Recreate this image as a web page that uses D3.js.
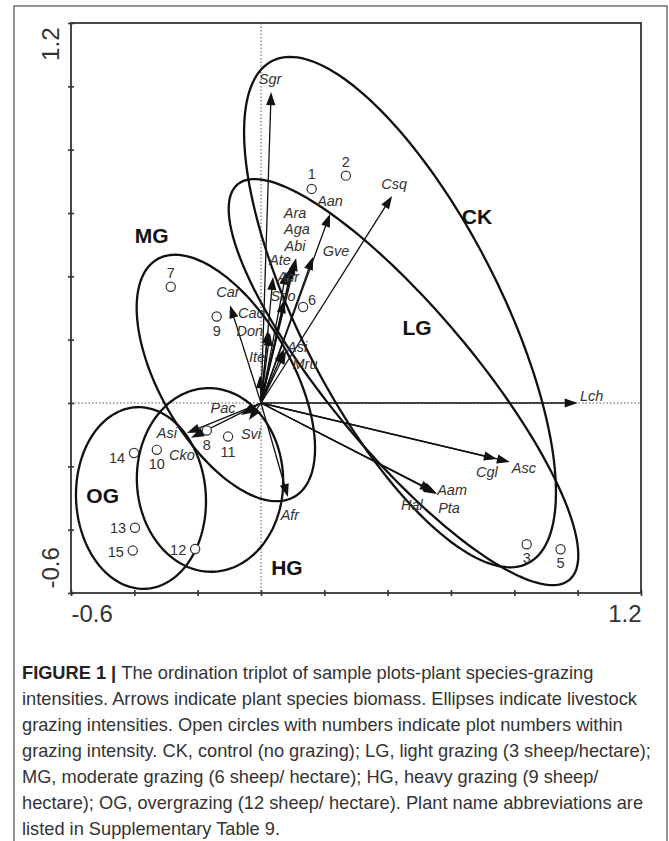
<!DOCTYPE html>
<html>
<head>
<meta charset="utf-8">
<script src="https://cdn.jsdelivr.net/npm/d3@7"></script>
<style>
  body { margin: 0; background: #fff; }
  svg { display: block; }
</style>
</head>
<body>
<svg id="chart" width="669" height="841"></svg>
<script>
// ---- Ordination scores -------------------------------------------------
// Species (arrows)
const speciesNames = ["Sgr","Csq","Aan","Gve","Ara","Aga","Abi","Ate","Acr","Sco","Car","Cac","Don",
                      "Asi","Mru","Ite","Pac","Svi","Asi","Cko","Afr","Lch","Cgl","Asc","Aam","Hal","Pta"];
const speciesX = [0.032, 0.414, 0.218, 0.164, 0.111, 0.104, 0.098, 0.038, 0.080, 0.073, -0.098, 0.022, 0.028,
                  0.073, 0.079, -0.003, -0.063, -0.038, -0.234, -0.221, 0.085, 1.000, 0.745, 0.786, 0.553, 0.543, 0.556];
const speciesY = [0.982, 0.654, 0.597, 0.461, 0.458, 0.445, 0.433, 0.398, 0.415, 0.325, 0.309, 0.230, 0.221,
                  0.171, 0.164, 0.088, -0.038, -0.054, -0.095, -0.110, -0.297, 0.000, -0.177, -0.186, -0.284, -0.278, -0.287];

// Sample plots (open circles)
const plotIds = ["1","2","3","5","6","7","9","8","11","10","14","13","15","12"];
const plotX = [0.160, 0.268, 0.839, 0.946, 0.133, -0.285, -0.140, -0.171, -0.104, -0.329, -0.401, -0.398, -0.405, -0.208];
const plotY = [0.676, 0.718, -0.446, -0.462, 0.303, 0.367, 0.273, -0.087, -0.106, -0.148, -0.158, -0.394, -0.466, -0.461];

// Grazing-intensity ellipses: centre, semi-axes, orientation (degrees)
const groupNames   = ["CK", "LG", "MG", "HG", "OG"];
const ellipseCx    = [0.439, 0.450, -0.111, -0.161, -0.379];
const ellipseCy    = [0.287, 0.066, 0.079, -0.243, -0.300];
const ellipseA     = [0.890, 0.815, 0.433, 0.290, 0.287];
const ellipseB     = [0.316, 0.227, 0.208, 0.231, 0.205];
const ellipseAngle = [-63, -50, -60, 92, 93];

// Axes
const axisTicks = [-0.6, -0.4, -0.2, 0, 0.2, 0.4, 0.6, 0.8, 1.0, 1.2];
const labelledTicks = [-0.6, 1.2];
const labelledTickText = ["-0.6", "1.2"];

// ---- Layout -------------------------------------------------------------
const groupLabelPos = { CK: [0.682, 0.590], MG: [-0.345, 0.527], LG: [0.493, 0.237], OG: [-0.500, -0.291], HG: [0.082, -0.521] };
// species label offsets from the arrow tip (px, label centre)
const speciesLabelOffset = [
  [-1,-13],[2,-12],[0,-13],[23,-6],[-1,-45],[3,-33],[3,-20],[7,-17],[2,5],[-1,-4],[-2,-13],[-17,-17],[-20,-2],
  [13,-2],[19,13],[-3,-18],[-18,-7],[2,14],[-20,0],[-9,17],[2,18],[14,-7],[-10,13],[14,6],[16,-3],[-21,14],[12,14]
];
// plot label offsets from the circle (px, label centre)
const plotLabelOffset = [[0,-15],[0,-14],[0,14],[0,14],[9,-7],[0,-14],[0,14],[0,14],[0,15],[0,14],[-17,5],[-17,0],[-17,1],[-17,1]];

const captionLines = [
  ["FIGURE 1 | ", "The ordination triplot of sample plots-plant species-grazing"],
  ["", "intensities. Arrows indicate plant species biomass. Ellipses indicate livestock"],
  ["", "grazing intensities. Open circles with numbers indicate plot numbers within"],
  ["", "grazing intensity. CK, control (no grazing); LG, light grazing (3 sheep/hectare);"],
  ["", "MG, moderate grazing (6 sheep/ hectare); HG, heavy grazing (9 sheep/"],
  ["", "hectare); OG, overgrazing (12 sheep/ hectare). Plant name abbreviations are"],
  ["", "listed in Supplementary Table 9."]
];

const svg = d3.select("#chart");
const font = "'Liberation Sans', Arial, sans-serif";

// outer figure box
svg.append("rect").attr("x", 14).attr("y", 6).attr("width", 653).attr("height", 850)
  .attr("fill", "none").attr("stroke", "#666").attr("stroke-width", 1.4);

const x = d3.scaleLinear().domain([-0.6, 1.2]).range([71, 641]);
const y = d3.scaleLinear().domain([-0.6, 1.2]).range([593, 23]);

const plot = svg.append("g");

// zero reference lines (dotted)
plot.append("line").attr("x1", x(0)).attr("x2", x(0)).attr("y1", y(1.2)).attr("y2", y(-0.6))
  .attr("stroke", "#555").attr("stroke-width", 1).attr("stroke-dasharray", "1.5,2");
plot.append("line").attr("x1", x(-0.6)).attr("x2", x(1.2)).attr("y1", y(0)).attr("y2", y(0))
  .attr("stroke", "#555").attr("stroke-width", 1).attr("stroke-dasharray", "1.5,2");

// axes
const tickLabel = d => { const i = labelledTicks.findIndex(t => Math.abs(t - d) < 1e-9); return i >= 0 ? labelledTickText[i] : ""; };

const gx = svg.append("g").attr("transform", `translate(0,${y(-0.6)})`)
  .call(d3.axisBottom(x).tickValues(axisTicks).tickSize(3).tickFormat(tickLabel));
gx.select(".domain").remove();
gx.selectAll(".tick line").attr("y1", -3).attr("y2", 3).attr("stroke", "#333").attr("stroke-width", 1.6);
gx.selectAll(".tick text").attr("y", 29).attr("dy", null).attr("x", 0)
  .attr("font-family", font).attr("font-size", 24).attr("fill", "#333")
  .attr("text-anchor", d => d < 0 ? "start" : "end");

const gy = svg.append("g").attr("transform", `translate(${x(-0.6)},0)`)
  .call(d3.axisLeft(y).tickValues(axisTicks).tickSize(3).tickFormat(tickLabel));
gy.select(".domain").remove();
gy.selectAll(".tick line").attr("x1", -3).attr("x2", 3).attr("stroke", "#333").attr("stroke-width", 1.6);
gy.selectAll(".tick text").attr("x", null).attr("dy", null).attr("y", null)
  .attr("font-family", font).attr("font-size", 24).attr("fill", "#333")
  .attr("text-anchor", d => d < 0 ? "start" : "end")
  .attr("transform", d => d < 0 ? "translate(-12,-5) rotate(-90)" : "translate(-12,4) rotate(-90)");

// frame
svg.append("rect").attr("x", x(-0.6)).attr("y", y(1.2)).attr("width", x(1.2) - x(-0.6)).attr("height", y(-0.6) - y(1.2))
  .attr("fill", "none").attr("stroke", "#333").attr("stroke-width", 1.8);

// ellipses
const line = d3.line().x(d => x(d[0])).y(d => y(d[1])).curve(d3.curveLinearClosed);
groupNames.forEach((g, i) => {
  const th = ellipseAngle[i] * Math.PI / 180, c = Math.cos(th), s = Math.sin(th);
  const pts = d3.range(0, 360, 2).map(deg => {
    const t = deg * Math.PI / 180;
    const u = ellipseA[i] * Math.cos(t), v = ellipseB[i] * Math.sin(t);
    return [ellipseCx[i] + u * c - v * s, ellipseCy[i] + u * s + v * c];
  });
  plot.append("path").attr("d", line(pts)).attr("fill", "none").attr("stroke", "#111").attr("stroke-width", 2.3);
});

// species arrows
const ox = x(0), oy = y(0);
const headL = 13, headW = 4.6;
speciesNames.forEach((n, i) => {
  const tx = x(speciesX[i]), ty = y(speciesY[i]);
  const dx = tx - ox, dy = ty - oy, len = Math.hypot(dx, dy);
  const ux = dx / len, uy = dy / len, nx = -uy, ny = ux;
  const bx = tx - ux * headL, by = ty - uy * headL;
  plot.append("line").attr("x1", ox).attr("y1", oy).attr("x2", bx + ux * 2).attr("y2", by + uy * 2)
    .attr("stroke", "#111").attr("stroke-width", 1.3);
  plot.append("path")
    .attr("d", `M${tx},${ty}L${bx + nx * headW},${by + ny * headW}L${bx - nx * headW},${by - ny * headW}Z`)
    .attr("fill", "#111");
});

// species labels
speciesNames.forEach((n, i) => {
  const o = speciesLabelOffset[i];
  plot.append("text").attr("x", x(speciesX[i]) + o[0]).attr("y", y(speciesY[i]) + o[1])
    .attr("dy", "0.35em").attr("text-anchor", "middle")
    .attr("font-family", font).attr("font-style", "italic").attr("font-size", 14.5).attr("fill", "#333")
    .text(n);
});

// sample plots
plotIds.forEach((p, i) => {
  plot.append("circle").attr("cx", x(plotX[i])).attr("cy", y(plotY[i])).attr("r", 4.6)
    .attr("fill", "#fff").attr("stroke", "#333").attr("stroke-width", 1.2);
  const o = plotLabelOffset[i];
  plot.append("text").attr("x", x(plotX[i]) + o[0]).attr("y", y(plotY[i]) + o[1])
    .attr("dy", "0.35em").attr("text-anchor", "middle")
    .attr("font-family", font).attr("font-size", 14.5).attr("fill", "#333").text(p);
});

// group labels
groupNames.forEach(g => {
  const p = groupLabelPos[g];
  plot.append("text").attr("x", x(p[0])).attr("y", y(p[1])).attr("dy", "0.35em").attr("text-anchor", "middle")
    .attr("font-family", font).attr("font-weight", "bold").attr("font-size", 21).attr("fill", "#111").text(g);
});

// caption (slightly condensed body text)
const cap = svg.append("g").attr("transform", "translate(22,0) scale(0.96,1)");
captionLines.forEach((ln, i) => {
  const t = cap.append("text").attr("x", 0).attr("y", 679 + i * 26)
    .attr("font-family", font).attr("font-size", 19).attr("fill", "#333");
  if (ln[0]) t.append("tspan").attr("font-weight", "bold").attr("fill", "#222").text(ln[0]);
  t.append("tspan").text(ln[1]);
});
</script>
</body>
</html>
